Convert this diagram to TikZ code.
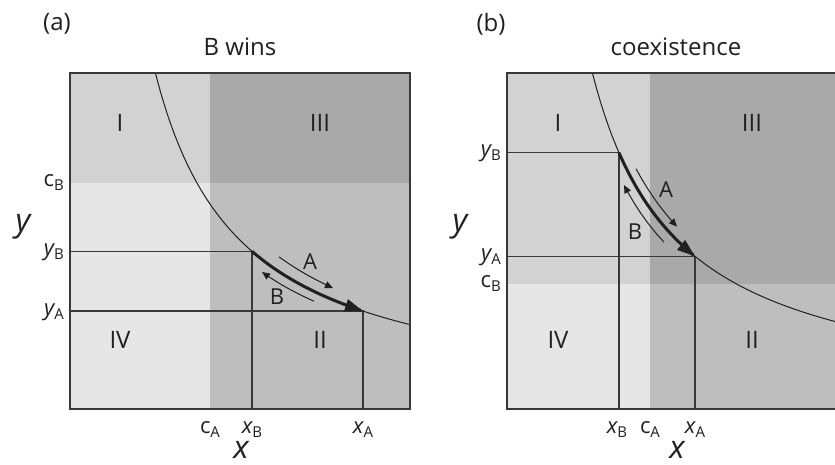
\documentclass[tikz,border=0pt]{standalone}
\usepackage{fontspec}
\setmainfont{Open Sans}
\usetikzlibrary{arrows.meta}
\definecolor{cI}{HTML}{D2D2D2}
\definecolor{cII}{HTML}{BEBEBE}
\definecolor{cIII}{HTML}{A9A9A9}
\definecolor{cIV}{HTML}{E6E6E6}
\definecolor{ink}{HTML}{202020}
\definecolor{lineclr}{HTML}{383838}
\newcommand\varlab[2]{{\itshape #1}\raisebox{-4pt}{\fontsize{15}{15}\selectfont #2}}
\newcommand\constlab[2]{#1\raisebox{-4pt}{\fontsize{15}{15}\selectfont #2}}
\begin{document}
\begin{tikzpicture}[x=1pt,y=-1pt,
  frame/.style={draw=lineclr,line width=1.9pt},
  guide/.style={draw=lineclr,line width=1.3pt},
  curveline/.style={draw=ink,line width=1pt},
  mainarrow/.style={draw=ink,line width=3pt,-{Triangle[length=18pt,width=12pt]}},
  thinarrow/.style={draw=ink,line width=1pt,-{Triangle[length=8pt,width=7pt]}},
  ticklab/.style={text=ink,inner sep=0pt,font=\fontsize{22}{22}\selectfont},
  axislab/.style={text=ink,inner sep=0pt,font=\fontsize{32}{32}\selectfont\itshape},
  roman/.style={text=ink,inner sep=0pt,font=\fontsize{24}{24}\selectfont},
  title/.style={text=ink,inner sep=0pt,font=\fontsize{24}{24}\selectfont},
  arrlab/.style={text=ink,inner sep=0pt,font=\fontsize{22}{22}\selectfont}]
\useasboundingbox (0,0) rectangle (835,465);
\fill[white] (0,0) rectangle (835,465);
\clip (0,0) rectangle (835,465);

% ---------------- panel (a) ----------------
\fill[cI]   (70,73)  rectangle (210,183);
\fill[cIII] (210,73) rectangle (410,183);
\fill[cIV]  (70,183) rectangle (210,409);
\fill[cII]  (210,183) rectangle (410,409);
\coordinate (aPB) at (252,{409-287/1.82});
\coordinate (aPA) at (363,{409-287/2.93});
\coordinate (aL) at (70,409);
\draw[guide] (aPB -| aL) -- (aPB) -- (aPB |- aL);
\draw[guide] (aPA -| aL) -- (aPA) -- (aPA |- aL);
\draw[curveline] plot[domain=155.5:410,samples=120] (\x,{409-287/((\x-70)/100)});
\draw[mainarrow] plot[domain=252:363,samples=50] (\x,{409-287/((\x-70)/100)});
\draw[thinarrow] plot[domain=209:263,samples=30] ({70+\x},{409-318/(\x/100)});
\draw[thinarrow] plot[domain=244:192,samples=30] ({70+\x},{409-263/(\x/100)});
\draw[frame] (70,73) rectangle (410,409);
\node[arrlab] (aA) at (310,262) {A};
\node[arrlab] (aB) at (277,297) {B};
\node[roman] (aI)   at (120,123) {I};
\node[roman] (aIII) at (320,123) {III};
\node[roman] (aIV)  at (120,340) {IV};
\node[roman] (aII)  at (320,340) {II};
\node[title] (alab) at (57,24) {(a)};
\node[title] (atit) at (240,47) {B wins};
\node[ticklab,anchor=base east] (acB) at (64,186.5) {\constlab{c}{B}};
\node[ticklab,anchor=base east] (ayB) at (64,{413-287/1.82}) {\varlab{y}{B}};
\node[ticklab,anchor=base east] (ayA) at (64,{413-287/2.93}) {\varlab{y}{A}};
\node[ticklab,anchor=base] (acA) at (210,433) {\constlab{c}{A}};
\node[ticklab,anchor=base] (axB) at (252,433) {\varlab{x}{B}};
\node[ticklab,anchor=base] (axA) at (363,433) {\varlab{x}{A}};
\node[axislab,anchor=base] (ay) at (23,232) {y};
\node[axislab,anchor=base] (ax) at (241,458) {x};

% ---------------- panel (b) ----------------
\fill[cI]   (507,73)  rectangle (650,284);
\fill[cIII] (650,73)  rectangle (847,284);
\fill[cIV]  (507,284) rectangle (650,409);
\fill[cII]  (650,284) rectangle (847,409);
\coordinate (bPB) at (619,{409-287/1.12});
\coordinate (bPA) at (695,{409-287/1.88});
\coordinate (bL) at (507,409);
\draw[guide] (bPB -| bL) -- (bPB) -- (bPB |- bL);
\draw[guide] (bPA -| bL) -- (bPA) -- (bPA |- bL);
\draw[curveline] plot[domain=592.4:847,samples=120] (\x,{409-287/((\x-507)/100)});
\draw[mainarrow] plot[domain=619:695,samples=50] (\x,{409-287/((\x-507)/100)});
\draw[thinarrow] plot[domain=129:170,samples=30] ({507+\x},{409-310/(\x/100)});
\draw[thinarrow] plot[domain=157:117,samples=30] ({507+\x},{409-262/(\x/100)});
\draw[frame] (507,73) rectangle (847,409);
\node[arrlab] (bA) at (666,190) {A};
\node[arrlab] (bB) at (635,232) {B};
\node[roman] (bI)   at (558,123) {I};
\node[roman] (bIII) at (752,123) {III};
\node[roman] (bIV)  at (558,340) {IV};
\node[roman] (bII)  at (752,340) {II};
\node[title] (blab) at (491,24) {(b)};
\node[title] (btit) at (676,47) {coexistence};
\node[ticklab,anchor=base east] (bcB) at (501,287.5) {\constlab{c}{B}};
\node[ticklab,anchor=base east] (byB) at (501,{413-287/1.12}) {\varlab{y}{B}};
\node[ticklab,anchor=base east] (byA) at (501,{413-287/1.88}) {\varlab{y}{A}};
\node[ticklab,anchor=base] (bxB) at (617,433) {\varlab{x}{B}};
\node[ticklab,anchor=base] (bcA) at (650,433) {\constlab{c}{A}};
\node[ticklab,anchor=base] (bxA) at (695,433) {\varlab{x}{A}};
\node[axislab,anchor=base] (by) at (460,232) {y};
\node[axislab,anchor=base] (bx) at (677,458) {x};
\end{tikzpicture}
\end{document}
